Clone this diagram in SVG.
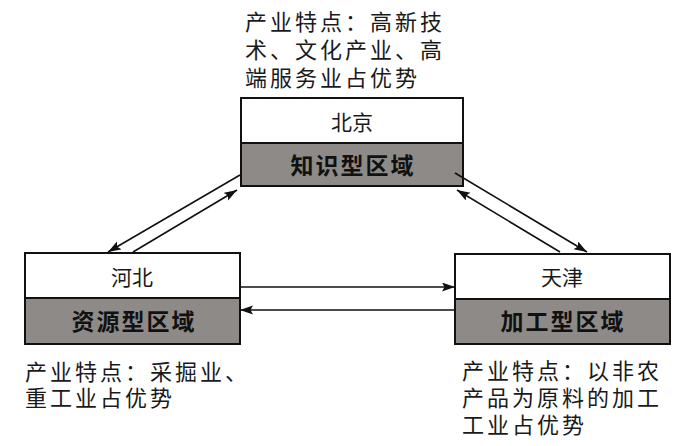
<svg xmlns="http://www.w3.org/2000/svg" width="698" height="446" viewBox="0 0 698 446">
<style>
.note{font-family:"Noto Sans CJK SC","Noto Sans",sans-serif;font-size:22px;letter-spacing:3px;fill:#1a1a1a}
.name{font-family:"Noto Sans CJK SC","Noto Sans",sans-serif;font-size:21px;fill:#1a1a1a;text-anchor:middle}
.type{font-family:"Noto Sans CJK SC","Noto Sans",sans-serif;font-size:23px;font-weight:bold;letter-spacing:2px;fill:#111;text-anchor:middle}
.top{fill:#ffffff;stroke:#111;stroke-width:2}
.bot{fill:#8d8a87;stroke:#111;stroke-width:2}
.conn{stroke:#111;stroke-width:1.6;fill:none;marker-end:url(#ah)}
</style>
<defs>
<marker id="ah" markerUnits="userSpaceOnUse" markerWidth="14" markerHeight="10" refX="13" refY="4.5" orient="auto">
<path d="M0,0 L13,4.5 L0,9 L2.5,4.5 z" fill="#111"/>
</marker>
</defs>
<rect width="698" height="446" fill="#ffffff"/>
<g id="beijing">
<rect class="top" x="241" y="98" width="222" height="45"/>
<rect class="bot" x="241" y="143" width="222" height="43"/>
<text class="name" x="352" y="130">北京</text>
<text class="type" x="353" y="174">知识型区域</text>
<text class="note"><tspan x="245" y="30">产业特点：高新技</tspan><tspan x="245" y="58">术、文化产业、高</tspan><tspan x="245" y="86">端服务业占优势</tspan></text>
</g>
<g id="hebei">
<rect class="top" x="25" y="253" width="215" height="45"/>
<rect class="bot" x="25" y="298" width="215" height="46"/>
<text class="name" x="132" y="285">河北</text>
<text class="type" x="134" y="330">资源型区域</text>
<text class="note"><tspan x="25" y="380">产业特点：采掘业、</tspan><tspan x="25" y="406">重工业占优势</tspan></text>
</g>
<g id="tianjin">
<rect class="top" x="455" y="254" width="215" height="45"/>
<rect class="bot" x="455" y="299" width="215" height="45"/>
<text class="name" x="562" y="285">天津</text>
<text class="type" x="563" y="330">加工型区域</text>
<text class="note"><tspan x="462" y="379">产业特点：以非农</tspan><tspan x="462" y="406">产品为原料的加工</tspan><tspan x="462" y="433">工业占优势</tspan></text>
</g>
<g id="connectors">
<line class="conn" x1="240" y1="175" x2="108" y2="252"/>
<line class="conn" x1="133" y1="252" x2="237" y2="190"/>
<line class="conn" x1="455" y1="173" x2="587" y2="252"/>
<line class="conn" x1="560" y1="252" x2="457" y2="190"/>
<line class="conn" x1="240" y1="287" x2="455" y2="287"/>
<line class="conn" x1="455" y1="310" x2="240" y2="310"/>
</g>
</svg>
